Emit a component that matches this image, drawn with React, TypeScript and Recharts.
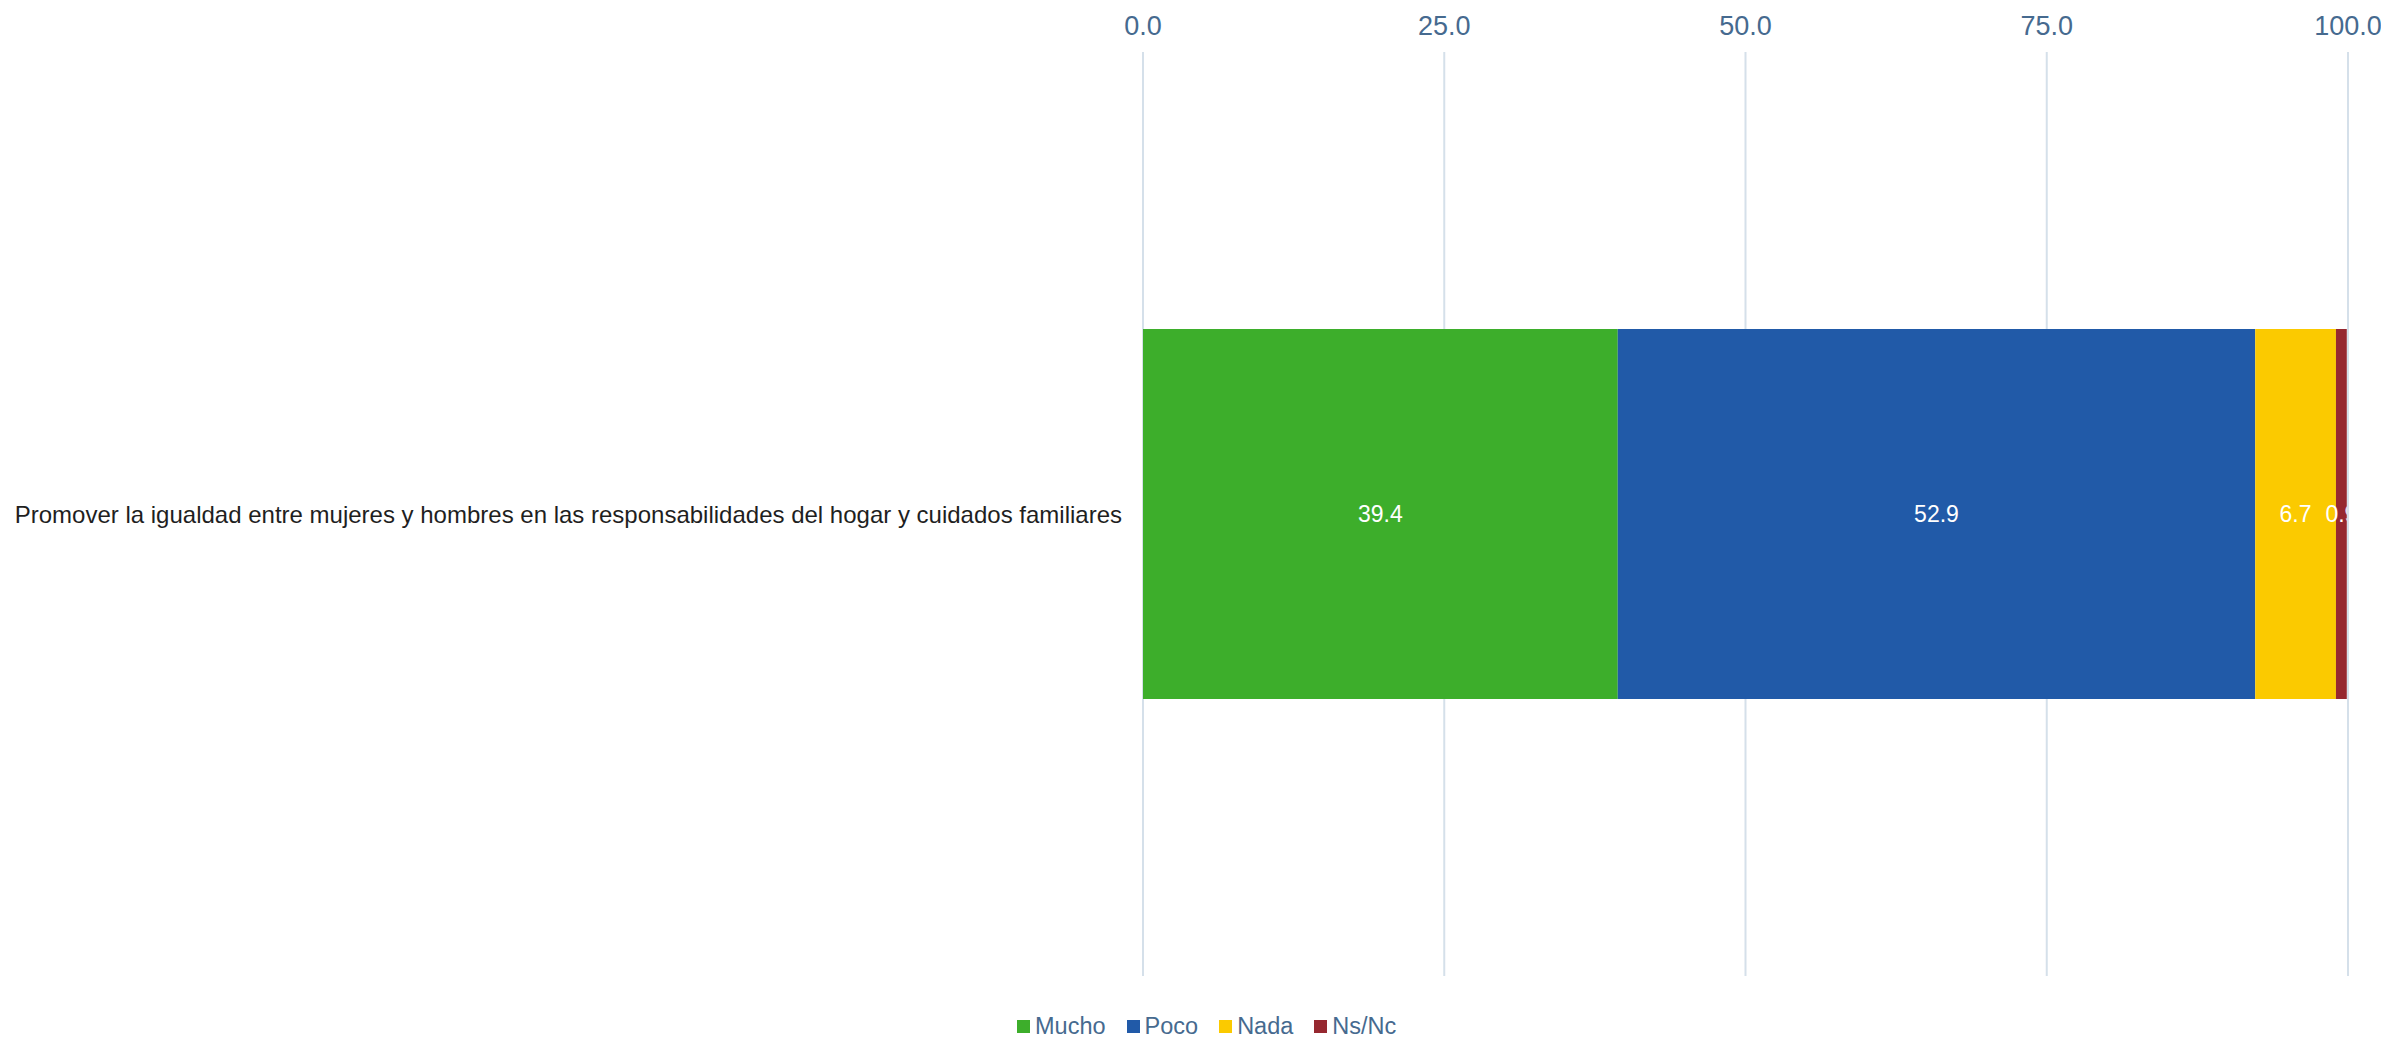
import React from 'react';
import { BarChart, Bar, XAxis, YAxis, CartesianGrid, Legend, LabelList } from 'recharts';

const categories = [
  'Promover la igualdad entre mujeres y hombres en las responsabilidades del hogar y cuidados familiares',
];
const mucho = [39.4];
const poco = [52.9];
const nada = [6.7];
const nsnc = [0.9];
const xTicks = [0, 25, 50, 75, 100];

const seriesNames = ['Mucho', 'Poco', 'Nada', 'Ns/Nc'];
const seriesColors = ['#3dae2b', '#215aa8', '#fbca00', '#962830'];
const seriesValues = [mucho, poco, nada, nsnc];

const data = categories.map((name, i) => {
  const row: Record<string, string | number> = { name };
  seriesNames.forEach((s, k) => {
    row[s] = seriesValues[k][i];
  });
  return row;
});

const axisColor = '#466a8f';

// white value label, cut at the right edge of its own segment
const SegmentLabel = (props: any) => {
  const vb = props.viewBox && props.viewBox.width != null ? props.viewBox : props;
  const { x, y, width, height } = vb;
  const { value, index, sid } = props;
  if (value == null) return null;
  const clipId = `lbl-clip-${sid}-${index}`;
  return (
    <g>
      <defs>
        <clipPath id={clipId}>
          <rect x={x - 200} y={y} width={width + 200} height={height} />
        </clipPath>
      </defs>
      <text
        x={x + width / 2}
        y={y + height / 2}
        fill="#ffffff"
        fontSize={23}
        textAnchor="middle"
        dominantBaseline="central"
        clipPath={`url(#${clipId})`}
      >
        {Number(value).toFixed(1)}
      </text>
    </g>
  );
};

const renderLegend = () => (
  <div
    style={{
      height: 62,
      boxSizing: 'border-box',
      paddingTop: 38,
      paddingLeft: 1017,
      display: 'flex',
      alignItems: 'center',
      fontSize: 23.5,
      lineHeight: '24px',
      color: axisColor,
    }}
  >
    {seriesNames.map((s, k) => (
      <div key={s} style={{ display: 'flex', alignItems: 'center', marginRight: 21 }}>
        <span
          style={{ width: 13, height: 13, background: seriesColors[k], display: 'inline-block', marginRight: 5 }}
        />
        <span>{s}</span>
      </div>
    ))}
  </div>
);

const App: React.FC = () => {
  return (
    <div
      style={{
        position: 'absolute',
        left: 0,
        top: 0,
        width: 2381,
        height: 1038,
        background: '#ffffff',
        fontFamily: '"Liberation Sans", Arial, sans-serif',
      }}
    >
      <BarChart
        width={2381}
        height={1038}
        data={data}
        layout="vertical"
        margin={{ top: 0, right: 33, bottom: 0, left: 0 }}
      >
        <CartesianGrid horizontal={false} stroke="#d5e0ea" strokeWidth={2} />
        <XAxis
          type="number"
          orientation="top"
          domain={[0, 100]}
          ticks={xTicks}
          interval={0}
          tickFormatter={(v: number) => v.toFixed(1)}
          axisLine={false}
          tickLine={false}
          tickSize={0}
          tickMargin={17}
          height={52}
          tick={{ fill: axisColor, fontSize: 27 }}
        />
        <YAxis
          type="category"
          dataKey="name"
          width={1143}
          axisLine={false}
          tickLine={false}
          tickSize={0}
          tickMargin={21}
          tick={{ fill: '#1f1f1f', fontSize: 24 }}
        />
        <Legend verticalAlign="bottom" content={renderLegend} wrapperStyle={{ left: 0 }} />
        {seriesNames.map((s, k) => (
          <Bar
            key={s}
            dataKey={s}
            stackId="a"
            fill={seriesColors[k]}
            barSize={370}
            isAnimationActive={false}
          >
            <LabelList dataKey={s} content={(p: any) => <SegmentLabel {...p} sid={k} />} />
          </Bar>
        ))}
      </BarChart>
    </div>
  );
};

export default App;
